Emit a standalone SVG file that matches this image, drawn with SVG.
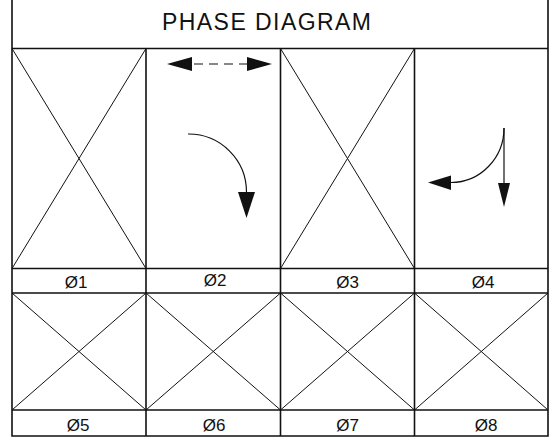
<svg xmlns="http://www.w3.org/2000/svg" width="555" height="444" viewBox="0 0 555 444">
<style>
.frame{fill:none;stroke:#111;stroke-width:1.6}
.x{stroke:#111;stroke-width:1}
.arc{fill:none;stroke:#111;stroke-width:1.2}
.head{fill:#111;stroke:none}
.title{font-family:"Liberation Sans",Arial,sans-serif;font-size:23px;fill:#111}
.lbl{font-family:"Liberation Sans",Arial,sans-serif;font-size:17px;fill:#111;text-anchor:middle}
</style>
<rect width="555" height="444" fill="#fff"/>
<g id="frame">
<path class="frame" d="M12 0V436H548V0M12 48.5H548M12 268.5H548M12 293H548M12 410H548M146 48.5V436M280.5 48.5V436M414.5 48.5V436"/>
</g>
<g id="title">
<text class="title" x="162" y="30" textLength="209" lengthAdjust="spacing">PHASE DIAGRAM</text>
</g>
<g id="phase1">
<path class="x" d="M12 48.5L146 268.5M146 48.5L12 268.5"/>
<text class="lbl" x="76" y="288">Ø1</text>
</g>
<g id="phase2">
<line x1="194" y1="64" x2="248" y2="64" stroke="#111" stroke-width="1.2" stroke-dasharray="9 6"/>
<polygon class="head" points="167,64 192,57 192,71"/>
<polygon class="head" points="272,64 247,57 247,71"/>
<path class="arc" d="M188 134A58 58 0 0 1 246.5 192"/>
<polygon class="head" points="238,192 255,192 246.5,218"/>
<text class="lbl" x="215" y="286">Ø2</text>
</g>
<g id="phase3">
<path class="x" d="M280.5 48.5L414.5 268.5M414.5 48.5L280.5 268.5"/>
<text class="lbl" x="347.5" y="288">Ø3</text>
</g>
<g id="phase4">
<line x1="504" y1="128" x2="504" y2="184" stroke="#111" stroke-width="1.2"/>
<polygon class="head" points="498,183 510,183 504,207"/>
<path class="arc" d="M504 128A53 54.5 0 0 1 451 182.5"/>
<polygon class="head" points="451,175.5 451,190 428,182.5"/>
<text class="lbl" x="483" y="288">Ø4</text>
</g>
<g id="phase5">
<path class="x" d="M12 293L146 410M146 293L12 410"/>
<text class="lbl" x="78" y="431">Ø5</text>
</g>
<g id="phase6">
<path class="x" d="M146 293L280.5 410M280.5 293L146 410"/>
<text class="lbl" x="214" y="431">Ø6</text>
</g>
<g id="phase7">
<path class="x" d="M280.5 293L414.5 410M414.5 293L280.5 410"/>
<text class="lbl" x="347.5" y="431">Ø7</text>
</g>
<g id="phase8">
<path class="x" d="M414.5 293L548 410M548 293L414.5 410"/>
<text class="lbl" x="486" y="431">Ø8</text>
</g>
</svg>
